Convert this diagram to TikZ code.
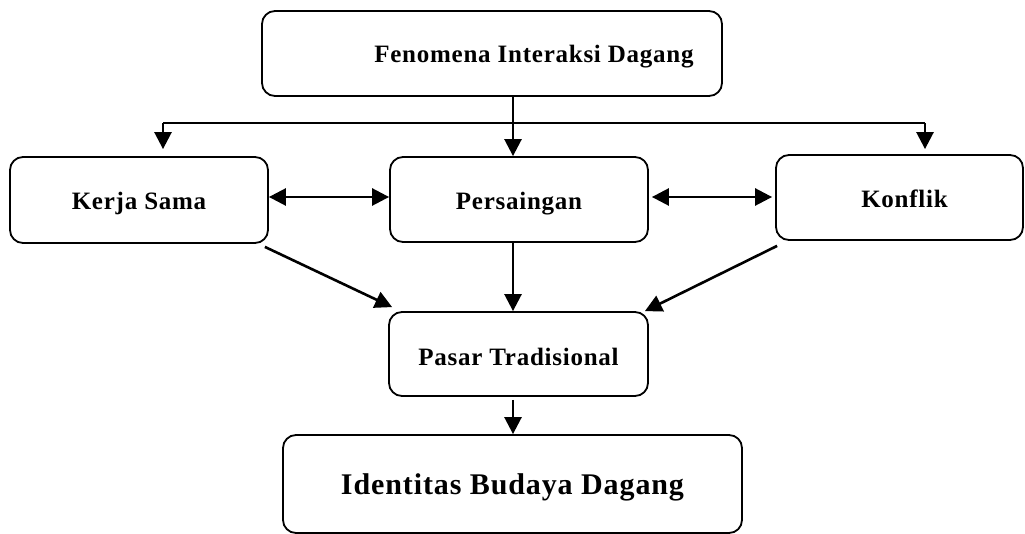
\documentclass[tikz,border=0pt]{standalone}
\usepackage{fontspec}
\setmainfont{Liberation Serif}
\newfontfamily\boxfont{Liberation Serif}[LetterSpace=3]
\usetikzlibrary{arrows.meta}
\begin{document}
\begin{tikzpicture}[x=1pt,y=-1pt]
		\tikzset{box/.style = {shape=rectangle,draw,rounded corners=13pt,line width=1.8pt,inner sep=0pt,text height=22pt,text depth=2pt,font=\boxfont\bfseries\fontsize{25}{30}\selectfont}}
		\tikzset{edge/.style = {line width=2.6pt,-{Triangle[length=17pt,width=17pt]}}}
		\tikzset{both/.style = {line width=2.6pt,{Triangle[length=17pt,width=17pt]}-{Triangle[length=17pt,width=17pt]}}}
		\useasboundingbox (0,0) rectangle (1025,534);
		\node[box,minimum width=460pt,minimum height=85pt,text height=21pt] (fenomena) at (492,53.5) {\hspace*{84pt}Fenomena Interaksi Dagang};
		\node[box,minimum width=258pt,minimum height=86pt] (kerja) at (139,200) {Kerja Sama};
		\node[box,minimum width=258pt,minimum height=85pt,text height=23pt] (persaingan) at (519,199.5) {Persaingan};
		\node[box,minimum width=247pt,minimum height=85pt,text height=23pt] (konflik) at (899.5,197.5) {\hspace*{10pt}Konflik};
		\node[box,minimum width=259pt,minimum height=84pt,text height=26pt] (pasar) at (518.5,354) {Pasar Tradisional};
		\node[box,minimum width=459pt,minimum height=98pt,font=\boxfont\bfseries\fontsize{30}{36}\selectfont] (identitas) at (512.5,484) {Identitas Budaya Dagang};
		\coordinate (mid) at (513,0);
		\coordinate (row) at (0,197);
		\coordinate (left) at (163,123);
		\coordinate (right) at (925,123);
		\draw[line width=2.6pt] (left) -- (right);
		\draw[edge] (mid |- fenomena.south) -- (mid |- persaingan.north);
		\draw[edge,shorten >=7pt] (left) -- (left |- kerja.north);
		\draw[edge,shorten >=5pt] (right) -- (right |- konflik.north);
		\draw[both] (kerja.east |- row) -- (persaingan.west |- row);
		\draw[both,shorten <=3pt,shorten >=3pt] (persaingan.east |- row) -- (konflik.west |- row);
		\draw[edge] ([xshift=-4pt,yshift=-3pt]kerja.south east) -- ([xshift=4pt,yshift=4pt]pasar.north west);
		\draw[edge] (mid |- persaingan.south) -- (mid |- pasar.north);
		\draw[edge] ([xshift=2pt,yshift=-5pt]konflik.south west) -- ([xshift=-4pt]pasar.north east);
		\draw[edge,shorten <=3pt] (mid |- pasar.south) -- (mid |- identitas.north);
	\end{tikzpicture}
\end{document}
